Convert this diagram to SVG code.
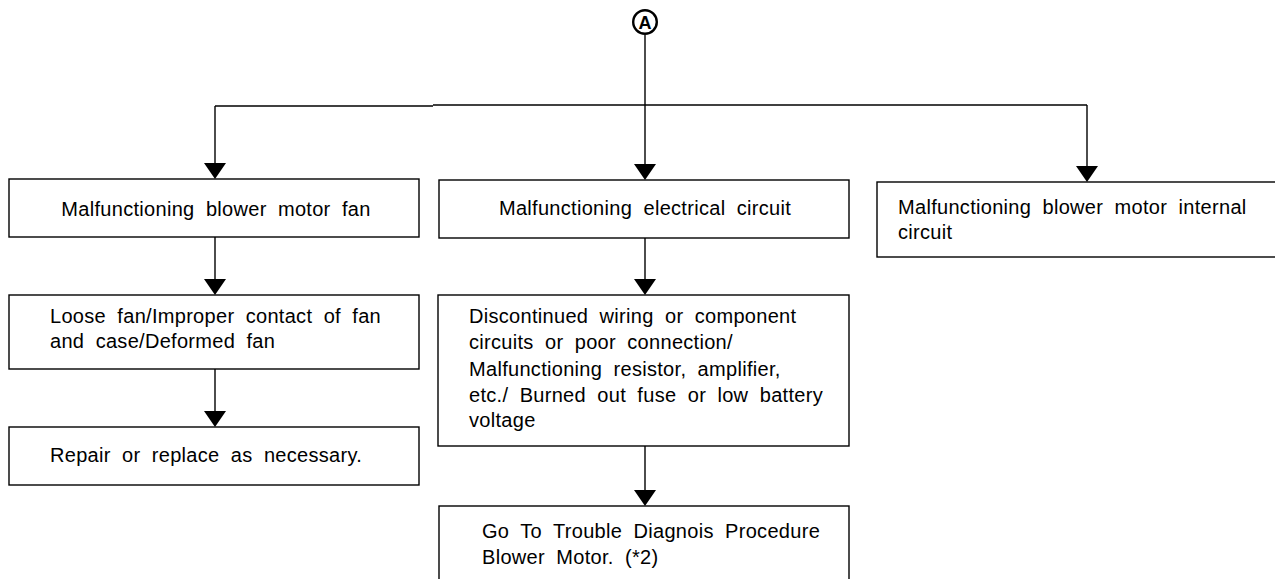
<svg xmlns="http://www.w3.org/2000/svg" width="1275" height="579" viewBox="0 0 1275 579">
<style>
.box{fill:#fff;stroke:#000;stroke-width:1.4}
.t{font-family:"Liberation Sans",Arial,sans-serif;font-size:20px;letter-spacing:0.3px;word-spacing:5.5px;fill:#000}
.c{text-anchor:middle}
.ln{fill:none;stroke:#000;stroke-width:1.4}
</style>
<rect width="1275" height="579" fill="#fff"/>
<g id="connectors">
<path class="ln" d="M215,106 H433"/>
<path class="ln" d="M433,105 H1087"/>
<path d="M215,106 V163" class="ln"/><path d="M204,163 H226 L215,179 Z"/>
<path d="M645,35 V164" class="ln"/><path d="M634,164 H656 L645,180 Z"/>
<path d="M1087,105 V166" class="ln"/><path d="M1076,166 H1098 L1087,182 Z"/>
<path d="M215,237 V279" class="ln"/><path d="M204,279 H226 L215,295 Z"/>
<path d="M215,369 V411" class="ln"/><path d="M204,411 H226 L215,427 Z"/>
<path d="M645,238 V279" class="ln"/><path d="M634,279 H656 L645,295 Z"/>
<path d="M645,446 V490" class="ln"/><path d="M634,490 H656 L645,506 Z"/>
</g>
<g id="nodeA">
<circle cx="645" cy="22" r="11.8" fill="#fff" stroke="#000" stroke-width="2.4"/>
<text x="645" y="29" text-anchor="middle" font-family="Liberation Sans,Arial,sans-serif" font-weight="bold" font-size="18px">A</text>
</g>
<g id="n1">
<rect class="box" x="9" y="179" width="410" height="58"/>
<text class="t c" x="216" y="216">Malfunctioning blower motor fan</text>
</g>
<g id="n2">
<rect class="box" x="439" y="180" width="410" height="58"/>
<text class="t c" x="645" y="215">Malfunctioning electrical circuit</text>
</g>
<g id="n3">
<rect class="box" x="877" y="182" width="410" height="75"/>
<text class="t" x="898" y="214">Malfunctioning blower motor internal</text>
<text class="t" x="898" y="239">circuit</text>
</g>
<g id="n4">
<rect class="box" x="9" y="295" width="410" height="74"/>
<text class="t" x="50" y="323">Loose fan/Improper contact of fan</text>
<text class="t" x="50" y="348">and case/Deformed fan</text>
</g>
<g id="n5">
<rect class="box" x="9" y="427" width="410" height="58"/>
<text class="t" x="50" y="462">Repair or replace as necessary.</text>
</g>
<g id="n6">
<rect class="box" x="438" y="295" width="411" height="151"/>
<text class="t" x="469" y="323">Discontinued wiring or component</text>
<text class="t" x="469" y="349">circuits or poor connection/</text>
<text class="t" x="469" y="376">Malfunctioning resistor, amplifier,</text>
<text class="t" x="469" y="402" word-spacing="4.8px">etc./ Burned out fuse or low battery</text>
<text class="t" x="469" y="427">voltage</text>
</g>
<g id="n7">
<rect class="box" x="439" y="506" width="410" height="90"/>
<text class="t" x="482" y="538">Go To Trouble Diagnois Procedure</text>
<text class="t" x="482" y="564">Blower Motor. (*2)</text>
</g>
</svg>
